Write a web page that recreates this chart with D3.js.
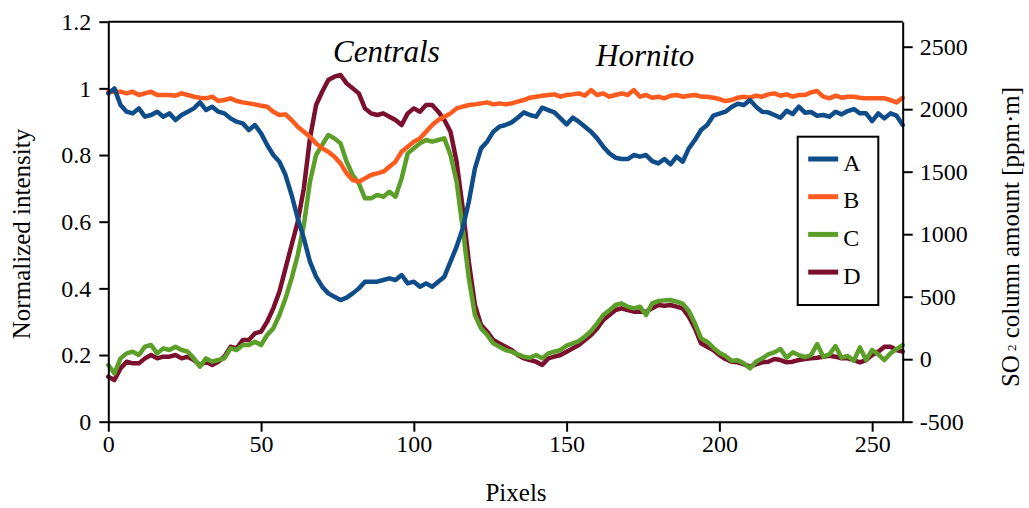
<!DOCTYPE html>
<html>
<head>
<meta charset="utf-8">
<script src="https://cdn.jsdelivr.net/npm/d3@7"></script>
<style>
	body { margin: 0; background: #fff; }
	text { font-family: 'Liberation Serif', 'Times New Roman', serif; fill: #000; }
</style>
</head>
<body>
<svg width="1029" height="508"></svg>
<script>
// sample positions along the profile (pixels)
let pixels = [0, 2, 4, 6, 8, 10, 12, 14, 16, 18, 20, 22, 24, 26, 28, 30, 32, 34, 36, 38,
	40, 42, 44, 46, 48, 50, 52, 54, 56, 58, 60, 62, 64, 66, 68, 70, 72, 74, 76, 78,
	80, 82, 84, 86, 88, 90, 92, 94, 96, 98, 100, 102, 104, 106, 108, 110, 112, 114, 116, 118,
	120, 122, 124, 126, 128, 130, 132, 134, 136, 138, 140, 142, 144, 146, 148, 150, 152, 154, 156, 158,
	160, 162, 164, 166, 168, 170, 172, 174, 176, 178, 180, 182, 184, 186, 188, 190, 192, 194, 196, 198,
	200, 202, 204, 206, 208, 210, 212, 214, 216, 218, 220, 222, 224, 226, 228, 230, 232, 234, 236, 238,
	240, 242, 244, 246, 248, 250, 252, 254, 256, 258, 260];

// normalized intensity
let seriesA = [0.985, 1.0, 0.95, 0.93, 0.925, 0.94, 0.915, 0.92, 0.93, 0.915, 0.925, 0.905, 0.92, 0.93, 0.94, 0.958, 0.935, 0.945, 0.93, 0.925,
	0.91, 0.90, 0.895, 0.875, 0.89, 0.865, 0.83, 0.80, 0.78, 0.74, 0.68, 0.61, 0.55, 0.48, 0.435, 0.405, 0.385, 0.375, 0.365, 0.372,
	0.385, 0.40, 0.42, 0.42, 0.42, 0.425, 0.43, 0.425, 0.44, 0.415, 0.42, 0.405, 0.415, 0.405, 0.42, 0.435, 0.48, 0.525, 0.58, 0.66,
	0.76, 0.82, 0.84, 0.87, 0.885, 0.89, 0.898, 0.912, 0.928, 0.92, 0.915, 0.942, 0.935, 0.928, 0.91, 0.892, 0.912, 0.90, 0.885, 0.87,
	0.85, 0.825, 0.805, 0.792, 0.788, 0.788, 0.80, 0.795, 0.80, 0.782, 0.775, 0.788, 0.772, 0.795, 0.78, 0.82, 0.845, 0.875, 0.89, 0.918,
	0.924, 0.93, 0.944, 0.954, 0.95, 0.965, 0.945, 0.93, 0.928, 0.92, 0.912, 0.933, 0.923, 0.945, 0.927, 0.929, 0.918, 0.92, 0.915, 0.93,
	0.922, 0.932, 0.938, 0.925, 0.925, 0.902, 0.925, 0.91, 0.925, 0.918, 0.89];

let seriesB = [0.99, 0.99, 0.99, 0.985, 0.99, 0.98, 0.985, 0.99, 0.98, 0.98, 0.98, 0.978, 0.985, 0.98, 0.975, 0.972, 0.97, 0.975, 0.962, 0.965,
	0.97, 0.962, 0.958, 0.955, 0.952, 0.948, 0.945, 0.93, 0.92, 0.922, 0.905, 0.885, 0.87, 0.855, 0.835, 0.82, 0.81, 0.795, 0.775, 0.745,
	0.725, 0.72, 0.73, 0.74, 0.745, 0.75, 0.765, 0.78, 0.81, 0.825, 0.84, 0.85, 0.87, 0.89, 0.905, 0.915, 0.925, 0.94, 0.945, 0.95,
	0.952, 0.955, 0.958, 0.952, 0.955, 0.952, 0.955, 0.96, 0.965, 0.972, 0.975, 0.978, 0.98, 0.982, 0.975, 0.98, 0.982, 0.985, 0.978, 0.995,
	0.98, 0.985, 0.975, 0.98, 0.985, 0.98, 0.995, 0.975, 0.98, 0.972, 0.975, 0.97, 0.978, 0.98, 0.975, 0.978, 0.98, 0.975, 0.975, 0.972,
	0.968, 0.962, 0.965, 0.972, 0.975, 0.972, 0.978, 0.975, 0.982, 0.985, 0.978, 0.982, 0.975, 0.98, 0.98, 0.988, 0.992, 0.975, 0.97, 0.978,
	0.972, 0.975, 0.975, 0.972, 0.97, 0.97, 0.97, 0.97, 0.965, 0.958, 0.972];

let seriesC = [0.17, 0.145, 0.19, 0.205, 0.21, 0.20, 0.225, 0.23, 0.205, 0.22, 0.215, 0.225, 0.215, 0.21, 0.19, 0.165, 0.19, 0.18, 0.185, 0.19,
	0.22, 0.215, 0.23, 0.23, 0.24, 0.23, 0.26, 0.28, 0.32, 0.37, 0.43, 0.50, 0.59, 0.72, 0.80, 0.83, 0.86, 0.85, 0.835, 0.78,
	0.74, 0.715, 0.67, 0.67, 0.68, 0.675, 0.69, 0.675, 0.73, 0.805, 0.82, 0.835, 0.845, 0.84, 0.845, 0.85, 0.80, 0.72, 0.58, 0.43,
	0.32, 0.28, 0.26, 0.235, 0.225, 0.215, 0.21, 0.202, 0.195, 0.192, 0.20, 0.19, 0.205, 0.21, 0.215, 0.228, 0.235, 0.242, 0.255, 0.272,
	0.295, 0.32, 0.334, 0.35, 0.355, 0.345, 0.34, 0.345, 0.32, 0.355, 0.362, 0.364, 0.365, 0.36, 0.354, 0.332, 0.295, 0.25, 0.24, 0.222,
	0.207, 0.197, 0.183, 0.184, 0.175, 0.16, 0.18, 0.19, 0.202, 0.208, 0.218, 0.192, 0.208, 0.20, 0.194, 0.20, 0.233, 0.195, 0.202, 0.227,
	0.192, 0.197, 0.183, 0.223, 0.185, 0.215, 0.202, 0.185, 0.205, 0.218, 0.23];

let seriesD = [0.135, 0.125, 0.16, 0.18, 0.175, 0.175, 0.19, 0.20, 0.19, 0.195, 0.195, 0.20, 0.19, 0.195, 0.185, 0.17, 0.18, 0.17, 0.18, 0.195,
	0.225, 0.22, 0.245, 0.245, 0.265, 0.27, 0.30, 0.34, 0.39, 0.46, 0.53, 0.60, 0.70, 0.85, 0.95, 0.99, 1.025, 1.035, 1.04, 1.015,
	1.0, 0.985, 0.94, 0.925, 0.92, 0.925, 0.915, 0.905, 0.89, 0.925, 0.94, 0.93, 0.95, 0.95, 0.93, 0.905, 0.87, 0.78, 0.64, 0.48,
	0.35, 0.29, 0.27, 0.245, 0.235, 0.225, 0.215, 0.20, 0.19, 0.185, 0.18, 0.17, 0.19, 0.195, 0.20, 0.21, 0.22, 0.23, 0.245, 0.26,
	0.28, 0.305, 0.32, 0.335, 0.34, 0.335, 0.33, 0.33, 0.33, 0.34, 0.35, 0.348, 0.35, 0.345, 0.34, 0.315, 0.28, 0.235, 0.225, 0.215,
	0.20, 0.188, 0.18, 0.178, 0.172, 0.165, 0.172, 0.178, 0.18, 0.188, 0.185, 0.178, 0.18, 0.185, 0.188, 0.19, 0.192, 0.195, 0.198, 0.195,
	0.19, 0.19, 0.185, 0.178, 0.185, 0.20, 0.21, 0.225, 0.225, 0.215, 0.21];

let seriesNames = ['A', 'B', 'C', 'D'];
let seriesColors = ['#0f4c8a', '#ff5b1f', '#5b9e28', '#7a0f2e'];

let xTicks = [0, 50, 100, 150, 200, 250];
let yTicks = [0, 0.2, 0.4, 0.6, 0.8, 1, 1.2];
let y2Ticks = [-500, 0, 500, 1000, 1500, 2000, 2500];

let svg = d3.select('svg');

let plotLeft = 108.3;
let plotRight = 902.7;
let plotTop = 21.7;
let plotBottom = 421.7;

let x = d3
	.scaleLinear()
	.domain([0, 260])
	.range([plotLeft, plotRight]);

let y = d3
	.scaleLinear()
	.domain([0, 1.2])
	.range([plotBottom, plotTop]);

let y2 = d3
	.scaleLinear()
	.domain([-500, 2700])
	.range([plotBottom, plotTop]);

let line = d3.line()
	.x((d, i) => x(pixels[i]))
	.y(d => y(d));

// draw D first so A ends up on top
let allSeries = [seriesA, seriesB, seriesC, seriesD];
[3, 2, 1, 0].forEach(k => {
	svg
		.append('path')
		.datum(allSeries[k])
		.attr('fill', 'none')
		.attr('stroke', seriesColors[k])
		.attr('stroke-width', 4.5)
		.attr('stroke-linejoin', 'round')
		.attr('stroke-linecap', 'round')
		.attr('d', line);
});

function styleAxis(g) {
	g.attr('font-size', 24);
	g.select('.domain').attr('stroke-width', 2);
	g.selectAll('.tick line').attr('stroke-width', 2);
}

svg
	.append('g')
	.attr('transform', 'translate(0, ' + plotBottom + ')')
	.call(d3.axisBottom(x).tickValues(xTicks).tickSize(10).tickSizeOuter(0).tickPadding(3).tickFormat(d => String(d)))
	.call(styleAxis);

svg
	.append('g')
	.attr('transform', 'translate(' + plotLeft + ', 0)')
	.call(d3.axisLeft(y).tickValues(yTicks).tickSize(9).tickSizeOuter(0).tickPadding(8).tickFormat(d => String(d)))
	.call(styleAxis);

// plain hyphen for the negative label, as in the original
svg
	.append('g')
	.attr('transform', 'translate(' + plotRight + ', 0)')
	.call(d3.axisRight(y2).tickValues(y2Ticks).tickSize(10).tickSizeOuter(0).tickPadding(7).tickFormat(d => String(d)))
	.call(styleAxis);

// top frame line
svg
	.append('line')
	.attr('x1', plotLeft)
	.attr('x2', plotRight)
	.attr('y1', plotTop)
	.attr('y2', plotTop)
	.attr('stroke', '#000')
	.attr('stroke-width', 2);

// axis titles
svg
	.append('text')
	.attr('x', 516)
	.attr('y', 501)
	.attr('text-anchor', 'middle')
	.style('font-size', '25px')
	.text('Pixels');

svg
	.append('text')
	.attr('transform', 'translate(30, 234) rotate(-90)')
	.attr('text-anchor', 'middle')
	.style('font-size', '25px')
	.text('Normalized intensity');

let so2 = svg
	.append('text')
	.attr('transform', 'translate(1019, 237) rotate(-90)')
	.attr('text-anchor', 'middle')
	.style('font-size', '25px');
so2.append('tspan').text('SO');
so2.append('tspan').attr('dx', 4).attr('dy', -3).style('font-size', '13px').text('2');
so2.append('tspan').attr('dy', 3).text(' column amount [ppm·m]');

// region labels
svg
	.append('text')
	.attr('x', 333)
	.attr('y', 61.7)
	.style('font-size', '31px')
	.style('font-style', 'italic')
	.text('Centrals');

svg
	.append('text')
	.attr('x', 596)
	.attr('y', 65.7)
	.style('font-size', '31px')
	.style('font-style', 'italic')
	.text('Hornito');

// legend
let legend = svg
	.append('g')
	.attr('transform', 'translate(797.7, 136.7)');

legend
	.append('rect')
	.attr('width', 80.6)
	.attr('height', 168.3)
	.attr('fill', '#fff')
	.attr('stroke', '#000')
	.attr('stroke-width', 2);

let item = legend
	.selectAll('g.item')
	.data(seriesNames)
	.enter()
	.append('g')
	.attr('class', 'item')
	.attr('transform', (d, i) => 'translate(0, ' + (22.3 + i * 37.7) + ')');

item
	.append('line')
	.attr('x1', 10.5)
	.attr('x2', 40.5)
	.attr('stroke', (d, i) => seriesColors[i])
	.attr('stroke-width', 5);

item
	.append('text')
	.attr('x', 45.5)
	.attr('y', 11.5)
	.style('font-size', '24px')
	.text(d => d);
</script>
</body>
</html>
